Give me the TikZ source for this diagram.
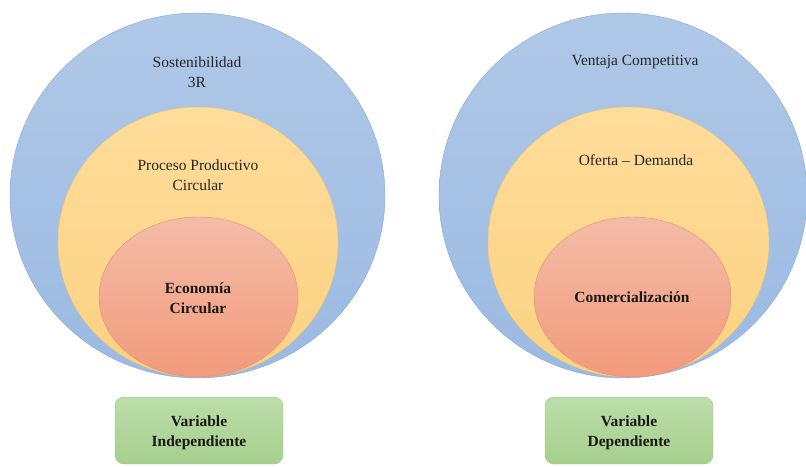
\documentclass[tikz,border=0pt]{standalone}
\usepackage{fontspec}
\setmainfont{Liberation Serif}
\usetikzlibrary{shapes.geometric}
\definecolor{bluetop}{HTML}{B0C8E8}
\definecolor{bluebot}{HTML}{9BBAE2}
\definecolor{blueline}{HTML}{86A6D6}
\definecolor{yellowtop}{HTML}{FEDC9A}
\definecolor{yellowbot}{HTML}{FCD283}
\definecolor{yellowline}{HTML}{F2C46E}
\definecolor{redtop}{HTML}{F4BCA8}
\definecolor{redbot}{HTML}{F29A7C}
\definecolor{redline}{HTML}{E38D70}
\definecolor{greentop}{HTML}{BCDDA9}
\definecolor{greenbot}{HTML}{A6CF8C}
\definecolor{greenline}{HTML}{9EC685}
\tikzset{outer/.style = {draw=blueline, ellipse, top color=bluetop, bottom color=bluebot, inner sep=0pt}}
\tikzset{middle/.style = {draw=yellowline, ellipse, top color=yellowtop, bottom color=yellowbot, inner sep=0pt}}
\tikzset{inner/.style = {draw=redline, ellipse, top color=redtop, bottom color=redbot, inner sep=0pt}}
\tikzset{varbox/.style = {draw=greenline, rounded corners=9pt, top color=greentop, bottom color=greenbot, minimum width=168pt, minimum height=67pt}}
\tikzset{ringtext/.style = {align=center, font=\fontsize{15.5}{20}\selectfont, text=black!85}}
\tikzset{ringbold/.style = {align=center, font=\fontsize{15.5}{20}\selectfont\bfseries, text=black!90}}

\begin{document}
\begin{tikzpicture}[x=1pt, y=-1pt]
  \useasboundingbox (0,0) rectangle (806,466);
  % independiente
  \node [outer, minimum width=375pt, minimum height=365pt] (sost) at (197.5,195.5) {};
  \node [middle, minimum width=280pt, minimum height=270pt] (proc) at (198,242) {};
  \node [inner, minimum width=199pt, minimum height=160pt] (econ) at (198.5,297) {};
  \node [ringtext] (tsost) at (197,72) {Sostenibilidad\\3R};
  \node [ringtext] (tproc) at (198,175) {Proceso Productivo\\Circular};
  \node [ringbold] (tecon) at (198,298) {Economía\\Circular};
  \node [varbox] (vind) at (199,430.5) {};
  \node [ringbold] (tvind) at (199,433) {Variable\\Independiente};
  % dependiente
  \node [outer, minimum width=368pt, minimum height=365pt] (vent) at (623,195.5) {};
  \node [middle, minimum width=281pt, minimum height=270pt] (ofer) at (628.5,242) {};
  \node [inner, minimum width=197pt, minimum height=160pt] (come) at (632.5,297) {};
  \node [ringtext] (tvent) at (635,62) {Ventaja Competitiva};
  \node [ringtext] (tofer) at (636,160) {Oferta -- Demanda};
  \node [ringbold] (tcome) at (632,297) {Comercialización};
  \node [varbox] (vdep) at (629,430.5) {};
  \node [ringbold] (tvdep) at (629,433) {Variable\\Dependiente};
\end{tikzpicture}
\end{document}
